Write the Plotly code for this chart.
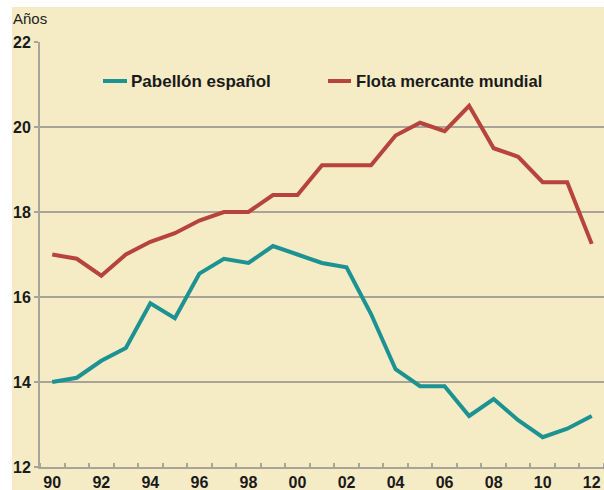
import plotly.graph_objects as go

years = list(range(1990, 2013))
pabellon_espanol = [14.0, 14.1, 14.5, 14.8, 15.85, 15.5, 16.55, 16.9, 16.8, 17.2, 17.0, 16.8, 16.7,
                    15.6, 14.3, 13.9, 13.9, 13.2, 13.6, 13.1, 12.7, 12.9, 13.2]
flota_mundial = [17.0, 16.9, 16.5, 17.0, 17.3, 17.5, 17.8, 18.0, 18.0, 18.4, 18.4, 19.1, 19.1,
                 19.1, 19.8, 20.1, 19.9, 20.5, 19.5, 19.3, 18.7, 18.7, 17.25]
x_tickvals = list(range(1990, 2013, 2))
x_ticktext = ["90", "92", "94", "96", "98", "00", "02", "04", "06", "08", "10", "12"]
y_tickvals = [12, 14, 16, 18, 20, 22]
series_names = ["Pabellón español", "Flota mercante mundial"]

TEAL = "#1C9292"
RED = "#B7433D"
BEIGE = "#F5EBC5"
GRID = "#A8A498"
FONT = "Liberation Sans, Arial, sans-serif"

fig = go.Figure()
fig.add_trace(go.Scatter(x=years, y=pabellon_espanol, mode="lines", name=series_names[0],
                         line=dict(color=TEAL, width=4), showlegend=False))
fig.add_trace(go.Scatter(x=years, y=flota_mundial, mode="lines", name=series_names[1],
                         line=dict(color=RED, width=4), showlegend=False))

W, H = 604, 490
L, R, T, B = 40, 0, 42, 23
pw, ph = W - L - R, H - T - B

def px(x):
    return (x - L) / pw

def py(y):
    return (H - B - y) / ph

shapes = [
    dict(type="rect", xref="paper", yref="paper", x0=px(12), x1=px(W + 2), y0=py(H + 2), y1=py(7),
         fillcolor=BEIGE, line=dict(width=0), layer="below"),
    dict(type="line", xref="paper", yref="paper", x0=px(103), x1=px(127), y0=py(81), y1=py(81),
         line=dict(color=TEAL, width=4)),
    dict(type="line", xref="paper", yref="paper", x0=px(328), x1=px(351), y0=py(81), y1=py(81),
         line=dict(color=RED, width=4)),
]

annotations = [
    dict(text="Años", xref="paper", yref="paper", x=px(11), y=py(19), xanchor="left", yanchor="middle",
         showarrow=False, font=dict(family=FONT, size=15, color="#222")),
    dict(text=series_names[0], xref="paper", yref="paper", x=px(129), y=py(81), xanchor="left",
         yanchor="middle", showarrow=False, font=dict(family=FONT, size=17, color="#1a1a1a", weight="bold")),
    dict(text=series_names[1], xref="paper", yref="paper", x=px(354), y=py(81), xanchor="left",
         yanchor="middle", showarrow=False, font=dict(family=FONT, size=16.6, color="#1a1a1a", weight="bold")),
]

fig.update_layout(
    width=W, height=H,
    margin=dict(l=L, r=R, t=T, b=B, pad=0),
    paper_bgcolor="white",
    plot_bgcolor="rgba(0,0,0,0)",
    shapes=shapes,
    annotations=annotations,
    showlegend=False,
    xaxis=dict(range=[1989.5, 2012.5], tickvals=x_tickvals, ticktext=x_ticktext, ticks="",
               showgrid=False, zeroline=False, showline=True, linecolor=GRID, linewidth=2,
               tickfont=dict(family=FONT, size=16, color="#1a1a1a", weight="bold"),
               minor=dict(tick0=1989.5, dtick=1, ticks="inside", ticklen=4, tickcolor=GRID,
                          tickwidth=1.5, showgrid=False)),
    yaxis=dict(range=[12, 22], tickvals=y_tickvals, ticks="outside", ticklen=4, tickcolor=GRID,
               tickwidth=2, showgrid=True, gridcolor=GRID, gridwidth=2, zeroline=False,
               showline=True, linecolor=GRID, linewidth=2,
               tickfont=dict(family=FONT, size=16, color="#1a1a1a", weight="bold")),
)

fig.write_html("out.html", config={"displayModeBar": False},
               post_script="document.body.style.margin='0';document.body.style.overflow='hidden';")
